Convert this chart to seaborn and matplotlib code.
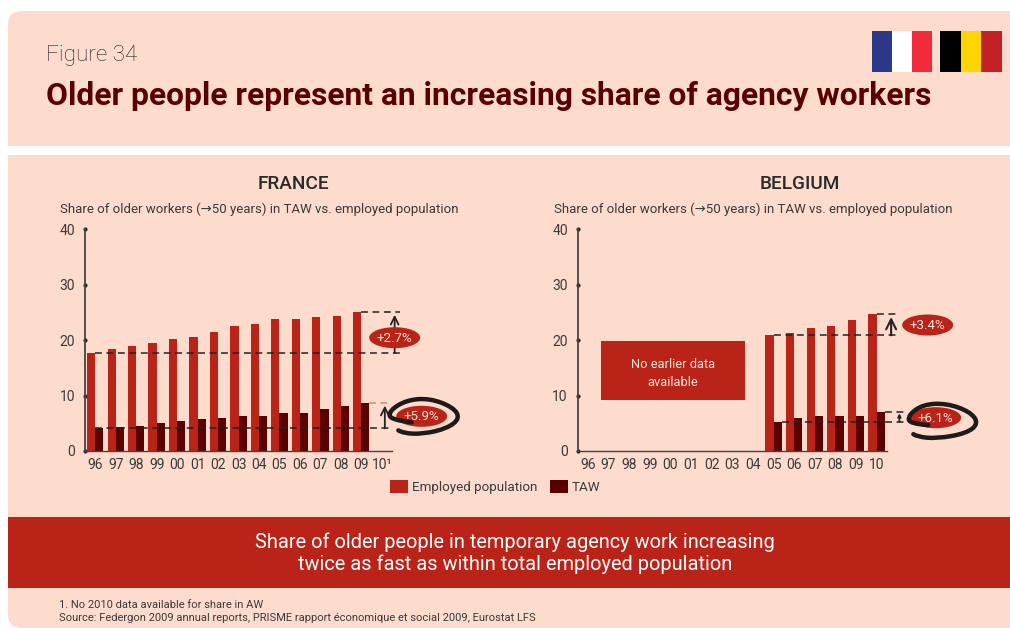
# -*- coding: utf-8 -*-
import matplotlib
matplotlib.use("Agg")
import matplotlib.pyplot as plt
from matplotlib.patches import FancyBboxPatch, Rectangle, Ellipse, Patch, PathPatch
from matplotlib.path import Path
import seaborn as sns
import numpy as np
import pandas as pd

years_fr = ['96','97','98','99','00','01','02','03','04','05','06','07','08','09','10¹']
years_be = ['96','97','98','99','00','01','02','03','04','05','06','07','08','09','10']
nan = float('nan')
fr_employed = [17.7,18.4,18.9,19.5,20.2,20.5,21.4,22.5,22.9,23.8,23.8,24.2,24.3,25.1,nan]
fr_taw = [4.1,4.3,4.5,5.0,5.4,5.7,5.9,6.3,6.4,6.8,6.8,7.5,8.1,8.6,nan]
be_employed = [nan]*9 + [20.9,21.3,22.3,22.5,23.6,24.7]
be_taw = [nan]*9 + [5.2,5.9,6.3,6.3,6.4,7.0]

BG = '#FDDCCD'
RED = '#B92318'
DARK = '#5A0000'
INK = '#3A3A3A'
W, H = 1010, 628
FONT = 'Roboto'

sns.set_theme(style='white')
plt.rcParams['font.family'] = [FONT, 'DejaVu Sans']

fig = plt.figure(figsize=(W/100, H/100), dpi=100, facecolor='white')

# page furniture, in pixel coordinates
bg = fig.add_axes([0, 0, 1, 1])
bg.set_xlim(0, W)
bg.set_ylim(H, 0)
bg.axis('off')

def box(x0, y0, x1, y1, color, z=1):
    bg.add_patch(Rectangle((x0, y0), x1-x0, y1-y0, fc=color, ec='none', zorder=z))

def rbox(x0, y0, x1, y1, color):
    bg.add_patch(FancyBboxPatch((x0+14, y0+14), x1-x0-28, y1-y0-28,
                                boxstyle='round,pad=14,rounding_size=14', fc=color, ec='none', zorder=1))

# only the left corners are round, the panels bleed off the right edge
rbox(8, 11, 1060, 110, BG)
box(8, 40, 1010, 146, BG)
rbox(8, 500, 1060, 628, BG)
box(8, 155, 1010, 600, BG)
box(8, 517, 1010, 588, RED, z=2)

# flags
for i, c in enumerate(['#2B3788', '#FFFFFF', '#EF2B3C']):
    box(872+i*20, 31, 892+i*20, 72, c)
for i, c in enumerate(['#000000', '#FFD500', '#C42126']):
    box(940+i*20.5, 31, 960.5+i*20.5, 72, c)

bg.text(46, 55.5, 'Figure 34', fontsize=16.2, fontweight='light', color='#222222', va='center', ha='left')
bg.text(46, 96, 'Older people represent an increasing share of agency workers',
        fontsize=22.9, fontweight='bold', color=DARK, va='center', ha='left')

for x, title in [(293, 'FRANCE'), (800, 'BELGIUM')]:
    bg.text(x, 184, title, fontsize=13.7, fontweight='medium', color='#2A2A2A', ha='center', va='center')
for x in [60, 554]:
    bg.text(x, 209, 'Share of older workers (→50 years) in TAW vs. employed population',
            fontsize=9.5, color=INK, ha='left', va='center')

box(601, 341, 745, 400, RED, z=2)
bg.text(673, 364, 'No earlier data', fontsize=9.3, color='#FBE3D8', ha='center', va='center', zorder=3)
bg.text(673, 382, 'available', fontsize=9.3, color='#FBE3D8', ha='center', va='center', zorder=3)

bg.text(514.5, 542, 'Share of older people in temporary agency work increasing',
        fontsize=14.4, color='white', ha='center', va='center', zorder=3)
bg.text(515, 564.5, 'twice as fast as within total employed population',
        fontsize=14.4, color='white', ha='center', va='center', zorder=3)
bg.text(59, 604.5, '1. No 2010 data available for share in AW', fontsize=8.0, color=INK, va='center')
bg.text(59, 618, 'Source: Federgon 2009 annual reports, PRISME rapport économique et social 2009, Eurostat LFS',
        fontsize=8.0, color=INK, va='center')

def draw_panel(left, right, years, employed, taw):
    ax = fig.add_axes([left/W, (H-451)/H, (right-left)/W, 221.5/H])
    ax.patch.set_alpha(0)
    df = pd.DataFrame({
        'year': years*2,
        'share': employed + taw,
        'series': ['Employed population']*len(years) + ['TAW']*len(years),
    })
    sns.barplot(data=df, x='year', y='share', hue='series', order=years, ax=ax,
                palette=[RED, DARK], saturation=1, width=0.8, gap=0, legend=False,
                linewidth=0)
    ax.set_ylim(0, 40)
    ax.set_xlim(-0.5, 14.5)
    ax.set_yticks([0, 10, 20, 30, 40])
    ax.set_xlabel('')
    ax.set_ylabel('')
    sns.despine(ax=ax)
    ax.spines['left'].set_color('#444444')
    ax.spines['left'].set_linewidth(1.3)
    ax.spines['bottom'].set_color('#444444')
    ax.spines['bottom'].set_linewidth(1.0)
    ax.tick_params(axis='x', length=0, pad=5, labelsize=10, labelcolor=INK)
    ax.tick_params(axis='y', length=0, pad=7, labelsize=10, labelcolor=INK)
    for tick in ax.yaxis.get_major_ticks():
        tick.tick1line.set_visible(True)
        tick.tick1line.set_marker('o')
        tick.tick1line.set_markersize(3)
        tick.tick1line.set_color('#222222')
        tick.tick1line.set_markeredgewidth(0)
    return ax

def dash(ax, x0, x1, y, color='#222222'):
    ax.plot([x0, x1], [y, y], color=color, lw=1.1, ls=(0, (4.5, 3)), clip_on=False, zorder=6)

def up(ax, x, y0, y1, lw=1.3, scale=14):
    ax.annotate('', xy=(x, y1), xytext=(x, y0), zorder=7, annotation_clip=False,
                arrowprops=dict(arrowstyle='->', color='#222222', lw=lw, mutation_scale=scale,
                                shrinkA=0, shrinkB=0))

def pill(cx, cy, label):
    bg.add_patch(Ellipse((cx, cy), 51, 21, fc=RED, ec='none', zorder=8))
    bg.text(cx, cy+0.5, label, color='#FBE3D8', fontsize=9.6, ha='center', va='center', zorder=9)

def scribble(ox, oy, pts):
    # hand drawn ring: zoomed crop coordinates / 3 + crop origin
    p = [(ox+a/3, oy+b/3) for a, b in pts]
    verts, codes = [p[0]], [Path.MOVETO]
    for i in range(1, len(p)-1):
        mid = ((p[i][0]+p[i+1][0])/2, (p[i][1]+p[i+1][1])/2)
        verts += [p[i], mid]
        codes += [Path.CURVE3, Path.CURVE3]
    bg.add_patch(PathPatch(Path(verts, codes), fc='none', ec='#1E1A1A', lw=3.2,
                           capstyle='round', zorder=10))

ax_fr = draw_panel(85, 392, years_fr, fr_employed, fr_taw)
dash(ax_fr, 0, 14.9, fr_employed[0])
dash(ax_fr, 13.0, 14.9, fr_employed[13])
dash(ax_fr, 0, 14.5, fr_taw[0])
dash(ax_fr, 13.4, 14.5, fr_taw[13], color='#C98A7C')
up(ax_fr, 14.63, fr_employed[0], 24.6)
up(ax_fr, 14.15, fr_taw[0], 8.2)

ax_be = draw_panel(577.5, 887, years_be, be_employed, be_taw)
dash(ax_be, 9.0, 15.0, be_employed[9])
dash(ax_be, 14.0, 15.0, be_employed[14])
dash(ax_be, 9.4, 15.4, be_taw[9])
dash(ax_be, 14.4, 15.4, be_taw[14])
up(ax_be, 14.7, be_employed[9], 24.2, lw=1.5, scale=18)
up(ax_be, 15.1, be_taw[9], 6.8, lw=1.2, scale=5)

# pills sit above the chart axes, so they get their own top layer
top = fig.add_axes([0, 0, 1, 1])
top.set_xlim(0, W)
top.set_ylim(H, 0)
top.axis('off')
bg = top
pill(394.7, 337.7, '+2.7%')
pill(421.7, 416.3, '+5.9%')
pill(927.7, 325, '+3.4%')
pill(935.7, 417.7, '+6.1%')
scribble(40, 170, [(1115,757),(1050,750),(1048,722),(1100,690),(1170,685),(1240,712),
                   (1260,745),(1222,775),(1150,792),(1090,790),(1060,772)])
scribble(540, 170, [(1165,765),(1108,762),(1105,735),(1150,703),(1220,700),(1290,725),
                    (1316,760),(1280,790),(1190,806),(1130,800),(1110,785)])

handles = [Patch(fc=RED, ec='none'), Patch(fc=DARK, ec='none')]
top.legend(handles, ['Employed population', 'TAW'], ncol=2, frameon=False,
           loc='center left', bbox_to_anchor=(390/W, 1-487/H), bbox_transform=fig.transFigure,
           handlelength=1.35, handleheight=1.05, handletextpad=0.32, columnspacing=0.9,
           borderpad=0, borderaxespad=0, prop={'size': 9.6}, labelcolor=INK)

fig.savefig('out.png', dpi=100, facecolor='white')
